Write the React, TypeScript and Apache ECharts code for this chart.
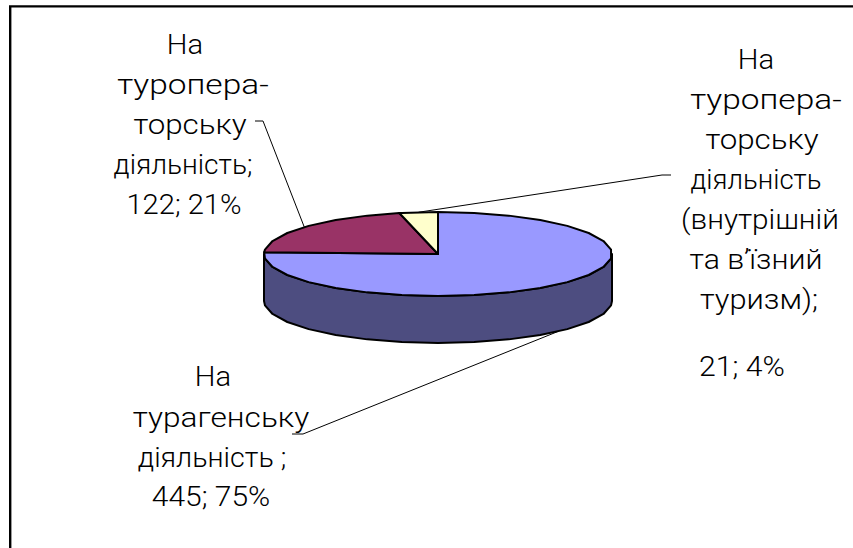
import React, { useEffect, useRef } from "react";
import * as echarts from "echarts";

const categories = ["На турагенську діяльність", "На туроператорську діяльність", "На туроператорську діяльність (внутрішній та в'їзний туризм)"];
const seriesValues = [445, 122, 21];
const topColors = ["#9999ff", "#993366", "#ffffcc"];
const sideColors = ["#4d4d80", "#4d1a33", "#80806a"];
const labelLines = [
  ["На", "турагенську", "діяльність ;", "445; 75%"],
  ["На", "туропера-", "торську", "діяльність;", "122; 21%"],
  ["На", "туропера-", "торську", "діяльність", "(внутрішній", "та в’їзний", "туризм);", "21; 4%"],
];
const labelX = [[213, 221, 212, 211], [185, 193, 190, 183, 184], [756, 766, 762, 756, 760, 756, 759, 742]];
const labelY = [[377, 418, 458, 497], [45, 85, 125, 165, 205], [60, 100, 140, 180, 220, 260, 300, 367]];
const labelStretch = [[1.08, 1.17, 1.06, 1.11], [1.08, 1.24, 1.16, 1.04, 1.08], [1.08, 1.24, 1.16, 1.02, 1.1, 1.12, 1.14, 1.12]];
const leaderStart = [[292, 434, 303, 434], [255, 121, 263, 121], [671, 175, 662, 175]];

const FONT = "Roboto";
const CX = 438, CY = 254, RX = 174, RY = 42, DEPTH = 47, FACET = 12;

function pt(deg: number, dy = 0) {
  const a = (deg * Math.PI) / 180;
  return [CX + RX * Math.sin(a), CY - RY * Math.cos(a) + dy];
}
function arc(from: number, to: number, dy = 0) {
  const pts: number[][] = [];
  const first = Math.ceil(from / FACET) * FACET;
  pts.push(pt(from, dy));
  for (let d = first; d < to; d += FACET) if (d > from) pts.push(pt(d, dy));
  pts.push(pt(to, dy));
  return pts;
}

export default function App() {
  const ref = useRef<HTMLDivElement>(null);
  useEffect(() => {
    const chart = echarts.init(ref.current!, undefined, { renderer: "svg" });
    const total = seriesValues.reduce((a, b) => a + b, 0);
    const spans: number[][] = [];
    let acc = 0;
    seriesValues.forEach((v) => {
      spans.push([(acc / total) * 360, ((acc + v) / total) * 360]);
      acc += v;
    });
    const stroke = { stroke: "#000", lineWidth: 2, lineJoin: "round" };
    chart.setOption({
      animation: false,
      backgroundColor: "#fff",
      graphic: [
        { type: "rect", shape: { x: 10.2, y: 6.4, width: 860, height: 560 }, style: { fill: "none", stroke: "#000", lineWidth: 2.4 } },
      ],
      series: [
        {
          type: "custom",
          coordinateSystem: "none",
          data: seriesValues.map((v, i) => ({ value: v, name: categories[i] })),
          clip: false,
          renderItem: (params: any) => {
            const i = params.dataIndex;
            const [from, to] = spans[i];
            const children: any[] = [];
            const s0 = Math.max(from, 90), s1 = Math.min(to, 270);
            if (s1 > s0) {
              children.push({
                type: "polygon",
                shape: { points: [...arc(s0, s1), ...arc(s0, s1, DEPTH).reverse()] },
                style: { fill: sideColors[i], ...stroke },
              });
            }
            children.push({
              type: "polygon",
              shape: { points: [[CX, CY], ...arc(from, to)] },
              style: { fill: topColors[i], ...stroke },
            });
            const mid = (from + to) / 2;
            const onSide = mid > 90 && mid < 270;
            const anchor = pt(mid, onSide ? DEPTH : 0);
            const ls = leaderStart[i];
            children.push({
              type: "polyline",
              shape: { points: [[ls[0], ls[1]], [ls[2], ls[3]], anchor] },
              style: { fill: "none", stroke: "#000", lineWidth: 1 },
            });
            labelLines[i].forEach((t, k) => {
              children.push({
                type: "text",
                x: labelX[i][k],
                y: labelY[i][k],
                scaleX: labelStretch[i][k],
                style: { text: t, align: "center", verticalAlign: "middle", font: `300 27px "${FONT}"`, fill: "#000" },
              });
            });
            return { type: "group", children };
          },
        },
      ],
    });
    return () => chart.dispose();
  }, []);
  return <div ref={ref} style={{ position: "fixed", left: 0, top: 0, width: 853, height: 548 }} />;
}
